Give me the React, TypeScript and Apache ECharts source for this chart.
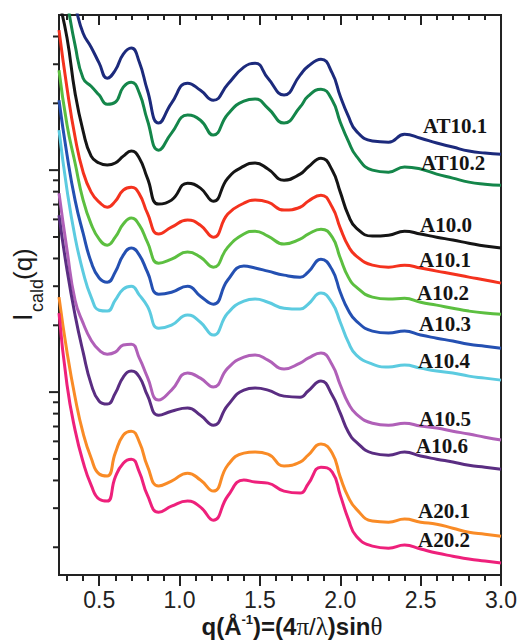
import React, { useEffect, useRef } from 'react';
import * as echarts from 'echarts';

// q grid (Å^-1) shared by all curves
const Q = [0.25, 0.3, 0.35, 0.4, 0.45, 0.5, 0.55, 0.6, 0.65, 0.7, 0.75, 0.8, 0.87, 0.95, 1.05, 1.13, 1.21, 1.3, 1.4, 1.47, 1.55, 1.65, 1.75, 1.8, 1.88, 1.95, 2.0, 2.05, 2.1, 2.2, 2.3, 2.4, 2.5, 2.6, 2.7, 2.8, 2.9, 3.0];

// log10 of I_cald(q)
const AT10_1 = [1.98, 1.86, 1.74, 1.617, 1.554, 1.482, 1.414, 1.45, 1.523, 1.55, 1.486, 1.36, 1.212, 1.302, 1.392, 1.36, 1.315, 1.387, 1.464, 1.482, 1.414, 1.338, 1.428, 1.468, 1.5, 1.437, 1.333, 1.243, 1.176, 1.131, 1.126, 1.162, 1.144, 1.122, 1.104, 1.086, 1.077, 1.072];
const AT10_2 = [1.937, 1.757, 1.563, 1.414, 1.378, 1.338, 1.297, 1.306, 1.374, 1.396, 1.347, 1.225, 1.09, 1.167, 1.248, 1.225, 1.158, 1.252, 1.311, 1.32, 1.279, 1.212, 1.284, 1.333, 1.365, 1.315, 1.216, 1.131, 1.063, 1.0, 0.991, 1.014, 1.005, 0.982, 0.964, 0.946, 0.937, 0.932];
const A10_0 = [1.761, 1.595, 1.347, 1.176, 1.063, 1.032, 1.023, 1.032, 1.063, 1.086, 1.054, 0.964, 0.847, 0.865, 0.941, 0.919, 0.86, 0.964, 1.018, 1.032, 1.005, 0.955, 0.982, 1.014, 1.054, 1.0, 0.901, 0.797, 0.739, 0.703, 0.707, 0.725, 0.712, 0.698, 0.685, 0.671, 0.658, 0.649];
const A10_1 = [1.631, 1.369, 1.149, 0.991, 0.901, 0.856, 0.833, 0.86, 0.91, 0.923, 0.892, 0.806, 0.712, 0.743, 0.775, 0.752, 0.698, 0.802, 0.851, 0.865, 0.856, 0.82, 0.833, 0.86, 0.887, 0.833, 0.739, 0.658, 0.613, 0.572, 0.563, 0.572, 0.559, 0.545, 0.532, 0.518, 0.505, 0.491];
const A10_2 = [1.45, 1.203, 1.032, 0.865, 0.757, 0.689, 0.662, 0.698, 0.757, 0.784, 0.752, 0.676, 0.581, 0.599, 0.631, 0.608, 0.563, 0.653, 0.712, 0.725, 0.703, 0.667, 0.689, 0.712, 0.734, 0.698, 0.604, 0.518, 0.473, 0.428, 0.419, 0.423, 0.405, 0.392, 0.378, 0.365, 0.356, 0.351];
const A10_3 = [1.315, 1.068, 0.865, 0.716, 0.586, 0.514, 0.495, 0.541, 0.617, 0.649, 0.617, 0.541, 0.441, 0.45, 0.477, 0.432, 0.396, 0.505, 0.568, 0.559, 0.545, 0.527, 0.518, 0.541, 0.599, 0.55, 0.45, 0.369, 0.32, 0.275, 0.266, 0.275, 0.257, 0.243, 0.23, 0.216, 0.207, 0.198];
const A10_4 = [1.18, 0.91, 0.698, 0.541, 0.428, 0.369, 0.365, 0.414, 0.464, 0.477, 0.437, 0.387, 0.288, 0.302, 0.347, 0.315, 0.257, 0.356, 0.41, 0.419, 0.405, 0.378, 0.374, 0.396, 0.446, 0.401, 0.315, 0.225, 0.167, 0.126, 0.113, 0.122, 0.108, 0.095, 0.086, 0.072, 0.063, 0.054];
const A10_5 = [0.896, 0.64, 0.414, 0.311, 0.234, 0.189, 0.171, 0.18, 0.212, 0.216, 0.153, 0.068, -0.036, 0.009, 0.086, 0.063, 0.023, 0.108, 0.158, 0.167, 0.144, 0.104, 0.131, 0.153, 0.176, 0.122, 0.032, -0.05, -0.099, -0.14, -0.149, -0.14, -0.153, -0.162, -0.176, -0.189, -0.203, -0.216];
const A10_6 = [0.797, 0.55, 0.347, 0.18, 0.036, -0.041, -0.054, -0.005, 0.068, 0.095, 0.068, -0.014, -0.104, -0.086, -0.072, -0.104, -0.149, -0.059, 0.009, 0.018, 0.009, -0.018, -0.023, 0.005, 0.05, -0.014, -0.095, -0.18, -0.225, -0.275, -0.284, -0.27, -0.288, -0.302, -0.315, -0.329, -0.338, -0.347];
const A20_1 = [0.428, 0.18, -0.023, -0.185, -0.297, -0.369, -0.378, -0.275, -0.194, -0.176, -0.225, -0.333, -0.423, -0.401, -0.365, -0.396, -0.446, -0.329, -0.275, -0.27, -0.279, -0.333, -0.315, -0.284, -0.234, -0.275, -0.383, -0.473, -0.527, -0.581, -0.586, -0.572, -0.586, -0.595, -0.613, -0.631, -0.64, -0.649];
const A20_2 = [0.356, 0.032, -0.171, -0.315, -0.419, -0.482, -0.491, -0.383, -0.32, -0.302, -0.36, -0.464, -0.541, -0.514, -0.491, -0.518, -0.577, -0.468, -0.396, -0.405, -0.41, -0.446, -0.455, -0.414, -0.338, -0.36, -0.464, -0.572, -0.649, -0.694, -0.703, -0.689, -0.707, -0.725, -0.739, -0.752, -0.761, -0.77];

const NAMES = ['AT10.1', 'AT10.2', 'A10.0', 'A10.1', 'A10.2', 'A10.3', 'A10.4', 'A10.5', 'A10.6', 'A20.1', 'A20.2'];
const CURVES = [AT10_1, AT10_2, A10_0, A10_1, A10_2, A10_3, A10_4, A10_5, A10_6, A20_1, A20_2];
const COLORS = ['#1c2a7c', '#14864a', '#151515', '#f4321e', '#5cbf40', '#2450b2', '#5ccbe0', '#b060b8', '#5a2d82', '#f98b26', '#ee207b'];

// axes
const X_MIN = 0.25;
const X_MAX = 3.0;
const X_MAJOR = [0.5, 1.0, 1.5, 2.0, 2.5, 3.0];
const X_MINOR = [0.3, 0.4, 0.6, 0.7, 0.8, 0.9, 1.1, 1.2, 1.3, 1.4, 1.6, 1.7, 1.8, 1.9, 2.1, 2.2, 2.3, 2.4, 2.6, 2.7, 2.8, 2.9];
const Y_MIN = 0.15;
const Y_MAX = 50;
const Y_MAJOR = [1, 10];
const Y_MINOR = [0.2, 0.3, 0.4, 0.5, 0.6, 0.7, 0.8, 0.9, 2, 3, 4, 5, 6, 7, 8, 9, 20, 30, 40];

// label layout (pixels)
const LABEL_LAYOUT = [
  [423, 126], [421, 163], [420, 225], [419, 260], [417, 293], [419, 324],
  [418, 361], [419, 419], [416, 446], [418, 511], [418, 540],
];

const AXIS_COLOR = '#222';

export default function App() {
  const ref = useRef<HTMLDivElement>(null);
  useEffect(() => {
    document.body.style.margin = '0';
    if (!ref.current) return;
    const chart = echarts.init(ref.current, null, { renderer: 'svg' });

    const lineSeries = CURVES.map((vals, k) => ({
      type: 'line',
      name: NAMES[k],
      data: Q.map((q, i) => [q, Math.pow(10, vals[i])]),
      showSymbol: false,
      symbol: 'none',
      smooth: 0.5,
      clip: true,
      lineStyle: { color: COLORS[k], width: 3 },
      itemStyle: { color: COLORS[k] },
      z: 3,
    }));

    const yTickData = [
      ...Y_MAJOR.map((v) => [X_MIN, v, 1]),
      ...Y_MINOR.map((v) => [X_MIN, v, 0]),
    ];

    const tickSeries = {
      type: 'custom',
      coordinateSystem: 'cartesian2d',
      xAxisIndex: 0,
      yAxisIndex: 0,
      silent: true,
      clip: false,
      data: yTickData,
      renderItem: (params: any, api: any) => {
        const p = api.coord([api.value(0), api.value(1)]);
        const len = api.value(2) ? 10 : 6;
        return {
          type: 'line',
          shape: { x1: p[0] - len, y1: p[1], x2: p[0] - 1, y2: p[1] },
          style: { stroke: AXIS_COLOR, lineWidth: 2 },
        };
      },
      z: 5,
    };

    const baseX = {
      type: 'value',
      min: X_MIN,
      max: X_MAX,
      gridIndex: 0,
      splitLine: { show: false },
    };

    const option: any = {
      animation: false,
      grid: {
        left: 59, right: 15, top: 15, bottom: 66,
        show: true, borderColor: AXIS_COLOR, borderWidth: 2, backgroundColor: 'transparent',
      },
      xAxis: [
        {
          ...baseX,
          position: 'bottom',
          axisLine: { show: true, onZero: false, lineStyle: { color: AXIS_COLOR, width: 2 } },
          axisTick: { show: true, inside: false, length: 11, customValues: X_MAJOR, lineStyle: { color: AXIS_COLOR, width: 2 } },
          axisLabel: {
            show: true, customValues: X_MAJOR, margin: 13,
            formatter: (v: number) => v.toFixed(1),
            fontFamily: 'Liberation Sans, Arial, sans-serif', fontSize: 23, color: '#222',
          },
        },
        {
          ...baseX,
          position: 'bottom',
          axisLine: { show: false, onZero: false },
          axisTick: { show: true, inside: false, length: 6, customValues: X_MINOR, lineStyle: { color: AXIS_COLOR, width: 2 } },
          axisLabel: { show: false },
        },
        {
          ...baseX,
          position: 'top',
          axisLine: { show: true, onZero: false, lineStyle: { color: AXIS_COLOR, width: 2 } },
          axisTick: { show: true, inside: true, length: 10, customValues: X_MAJOR, lineStyle: { color: AXIS_COLOR, width: 2 } },
          axisLabel: { show: false },
        },
        {
          ...baseX,
          position: 'top',
          axisLine: { show: false, onZero: false },
          axisTick: { show: true, inside: true, length: 5, customValues: X_MINOR, lineStyle: { color: AXIS_COLOR, width: 2 } },
          axisLabel: { show: false },
        },
      ],
      yAxis: {
        type: 'log',
        logBase: 10,
        min: Y_MIN,
        max: Y_MAX,
        axisLine: { show: true, lineStyle: { color: AXIS_COLOR, width: 2 } },
        axisTick: { show: false },
        axisLabel: { show: false },
        splitLine: { show: false },
        minorTick: { show: false },
      },
      series: [...lineSeries, tickSeries],
      graphic: [
        ...NAMES.map((n, k) => ({
          type: 'text',
          x: LABEL_LAYOUT[k][0],
          y: LABEL_LAYOUT[k][1],
          z: 10,
          style: {
            text: n,
            fill: '#141414',
            font: 'bold 21px "Liberation Serif", "Times New Roman", serif',
            align: 'left',
            verticalAlign: 'middle',
          },
        })),
        {
          type: 'text',
          x: 292,
          y: 626,
          z: 10,
          style: {
            text: '{b|q(Å}{sup|-1}{b|)=(4}{g|π}{r|/}{g|λ}{b|)sin}{g|θ}',
            align: 'center',
            verticalAlign: 'middle',
            rich: {
              b: { fontFamily: 'Liberation Sans, Arial, sans-serif', fontWeight: 'bold', fontSize: 24, lineHeight: 26, fill: '#1a1a1a' },
              sup: { fontFamily: 'Liberation Sans, Arial, sans-serif', fontWeight: 'bold', fontSize: 13, lineHeight: 14, fill: '#1a1a1a', verticalAlign: 'top' },
              r: { fontFamily: 'Liberation Sans, Arial, sans-serif', fontSize: 24, lineHeight: 26, fill: '#1a1a1a' },
              g: { fontFamily: 'Liberation Serif, serif', fontSize: 25, lineHeight: 26, fill: '#1a1a1a' },
            },
          },
        },
        {
          type: 'group',
          x: 23,
          y: 284,
          rotation: Math.PI / 2,
          children: [
            {
              type: 'text', x: -37, y: 0,
              style: { text: 'I', font: '27px "Liberation Sans", Arial, sans-serif', fill: '#1a1a1a', align: 'left', verticalAlign: 'middle' },
            },
            {
              type: 'text', x: -28, y: 14,
              style: { text: 'cald', font: '18px "Liberation Sans", Arial, sans-serif', fill: '#1a1a1a', align: 'left', verticalAlign: 'middle' },
            },
            {
              type: 'text', x: 4, y: 0,
              style: { text: '(q)', font: '26px "Liberation Sans", Arial, sans-serif', fill: '#1a1a1a', align: 'left', verticalAlign: 'middle' },
            },
          ],
        },
      ],
    };

    chart.setOption(option);
    return () => chart.dispose();
  }, []);

  return <div ref={ref} style={{ width: 520, height: 641 }} />;
}
